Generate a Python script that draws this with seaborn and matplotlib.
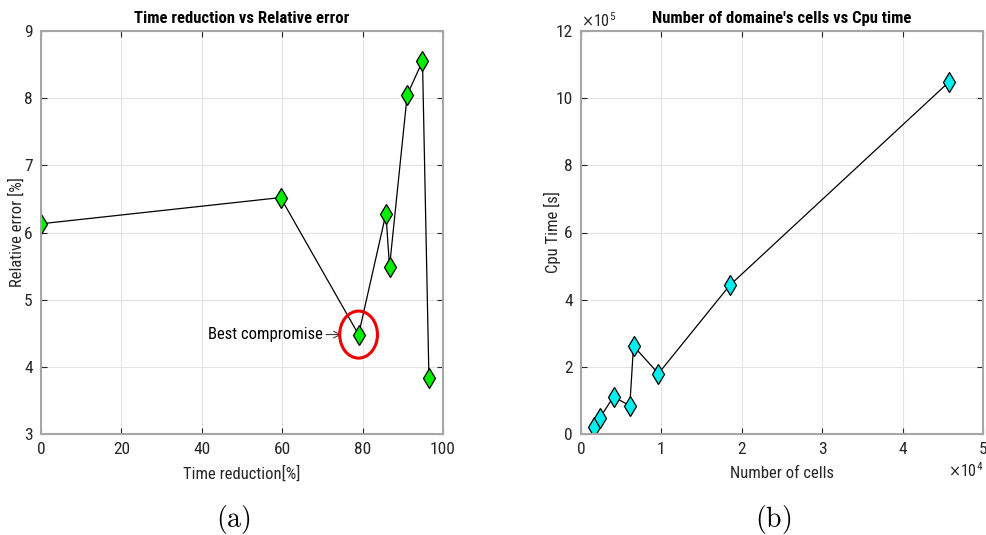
import matplotlib
matplotlib.use("Agg")
import matplotlib.pyplot as plt
import matplotlib.ticker as mticker
from matplotlib.patches import Ellipse
import seaborn as sns
import pandas as pd

# ---- data (a) ----
time_reduction = [0.0, 59.6, 79.0, 85.8, 86.7, 91.1, 94.9, 96.5]
relative_error = [6.13, 6.52, 4.48, 6.28, 5.49, 8.05, 8.55, 3.84]
best_x, best_y = 79.0, 4.48

# ---- data (b) ----
n_cells = [1570, 2310, 4050, 6070, 6530, 9630, 18510, 45800]
cpu_time = [20000, 47000, 111000, 84000, 262000, 180000, 443000, 1049000]

sns.set_theme(style="whitegrid")
plt.rcParams['font.family'] = ['Roboto Condensed', 'Liberation Sans Narrow',
                               'Liberation Sans', 'DejaVu Sans']
plt.rcParams['font.stretch'] = 'condensed'

TXT = '#262626'
SPINE = '#a6a6a6'
GRID = '#e3e3e3'
FS = 12

fig = plt.figure(figsize=(9.87, 5.35), dpi=100)
ax1 = fig.add_axes([41/987, 101/535, 402/987, 403/535])
ax2 = fig.add_axes([581/987, 101/535, 402/987, 403/535])

dfa = pd.DataFrame({"x": time_reduction, "y": relative_error})
dfb = pd.DataFrame({"x": n_cells, "y": cpu_time})

sns.lineplot(data=dfa, x="x", y="y", ax=ax1, sort=False, estimator=None,
             color='black', lw=0.9, marker='d', markersize=10,
             markerfacecolor='#00ee00', markeredgecolor='black', markeredgewidth=0.9)
sns.lineplot(data=dfb, x="x", y="y", ax=ax2, sort=False, estimator=None,
             color='black', lw=0.9, marker='d', markersize=10,
             markerfacecolor='#00eeee', markeredgecolor='black', markeredgewidth=0.9)


class FixedOrderFormatter(mticker.ScalarFormatter):
    def __init__(self, order):
        self._order = order
        super().__init__(useMathText=True)

    def _set_order_of_magnitude(self):
        self.orderOfMagnitude = self._order

    def _set_format(self):
        self.format = '%1.0f'


for ax in (ax1, ax2):
    ax.set_facecolor('white')
    ax.grid(True, color=GRID, lw=0.8)
    for s in ax.spines.values():
        s.set_color(SPINE)
        s.set_linewidth(1.5)
    ax.tick_params(direction='in', length=4, width=0.8, color=TXT,
                   labelsize=FS + 0.5, labelcolor=TXT, top=True, right=True,
                   bottom=True, left=True, pad=6)

ax1.set_xlim(0, 100)
ax1.set_ylim(3, 9)
ax1.set_xticks([0, 20, 40, 60, 80, 100])
ax1.set_yticks([3, 4, 5, 6, 7, 8, 9])
ax1.set_xlabel('Time reduction[%]', fontsize=FS, color=TXT)
ax1.set_ylabel('Relative error [%]', fontsize=FS, color=TXT)
ax1.xaxis.set_label_coords(0.5, -(474 - 434) / 403, transform=ax1.transAxes)
ax1.yaxis.set_label_coords(-(41 - 17) / 402, 0.5, transform=ax1.transAxes)
ax1.xaxis.label.set_va('center')
ax1.yaxis.label.set_va('center')
ax1.set_title('Time reduction vs Relative error', fontsize=FS, fontweight='bold',
              color='black', pad=6, y=1.0)
ax1.add_patch(Ellipse((best_x, best_y), width=9.4, height=0.70, fill=False,
                      edgecolor='#ee0000', lw=2.2, zorder=5))
ax1.annotate('Best compromise', xy=(best_x - 4.3, best_y), xytext=(best_x - 8.9, best_y),
             ha='right', va='center', fontsize=FS, color='black',
             arrowprops=dict(arrowstyle='->', color=TXT, lw=0.7, shrinkA=0, shrinkB=0))

ax2.set_xlim(0, 50000)
ax2.set_ylim(0, 1200000)
ax2.set_xticks([0, 10000, 20000, 30000, 40000, 50000])
ax2.set_yticks([0, 200000, 400000, 600000, 800000, 1000000, 1200000])
ax2.xaxis.set_major_formatter(FixedOrderFormatter(4))
ax2.yaxis.set_major_formatter(FixedOrderFormatter(5))
for ot in (ax2.xaxis.get_offset_text(), ax2.yaxis.get_offset_text()):
    ot.set_fontsize(FS - 0.5)
    ot.set_color(TXT)
ax2.set_xlabel('Number of cells', fontsize=FS, color=TXT)
ax2.set_ylabel('Cpu Time [s]', fontsize=FS, color=TXT)
ax2.xaxis.set_label_coords(0.5, -(474 - 434) / 403, transform=ax2.transAxes)
ax2.yaxis.set_label_coords(-(581 - 552) / 402, 0.5, transform=ax2.transAxes)
ax2.xaxis.label.set_va('center')
ax2.yaxis.label.set_va('center')
ax2.set_title("Number of domaine's cells vs Cpu time", fontsize=FS, fontweight='bold',
              color='black', pad=6, y=1.0)

cap = dict(fontsize=20, ha='center', va='center', color='black')
fig.text(233/987, 1 - 519/535, r'$\mathrm{(a)}$', math_fontfamily='cm', **cap)
fig.text(773/987, 1 - 519/535, r'$\mathrm{(b)}$', math_fontfamily='cm', **cap)

fig.savefig('out.png', dpi=100)
